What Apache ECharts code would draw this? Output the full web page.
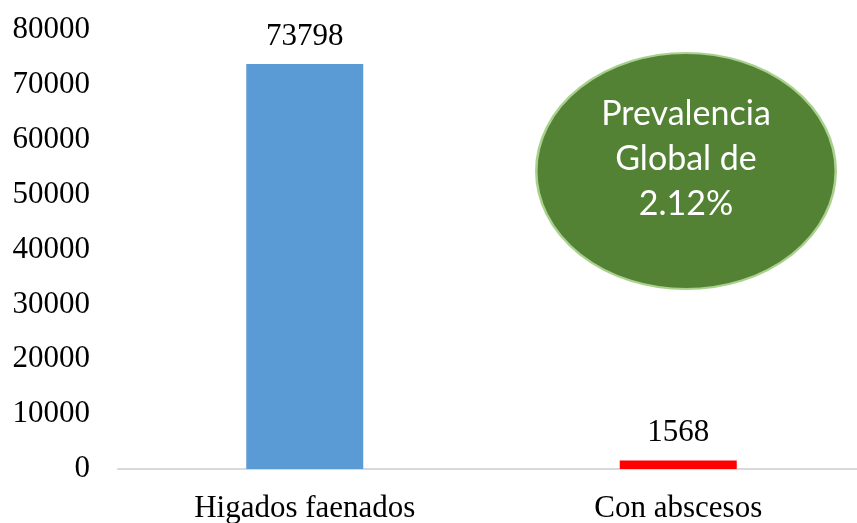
<!DOCTYPE html>
<html>
<head>
<meta charset="utf-8">
<script src="https://cdn.jsdelivr.net/npm/echarts@6/dist/echarts.min.js"></script>
<style>
  html, body { margin: 0; padding: 0; background: #fff; }
  #chart { width: 857px; height: 523px; }
</style>
</head>
<body>
<div id="chart"></div>
<script>
// datos
const categories = ['Higados faenados', 'Con abscesos'];
const values = [73798, 1568];
const barColors = ['#5B9BD5', '#FF0000'];
const noteLines = ['Prevalencia', 'Global de', '2.12%'];

const chart = echarts.init(document.getElementById('chart'), null, { renderer: 'canvas' });

const serif = '"Liberation Serif", "Times New Roman", serif';

const option = {
    backgroundColor: '#ffffff',
    animation: false,
    grid: {
        left: 118,
        width: 747,
        top: 30,
        bottom: 54,
        outerBoundsMode: 'none'
    },
    xAxis: {
        type: 'category',
        data: categories,
        axisLine: { show: true, lineStyle: { color: '#d9d9d9', width: 2 } },
        axisTick: { show: false },
        axisLabel: {
            color: '#000',
            fontFamily: serif,
            fontSize: 31,
            margin: 24
        }
    },
    yAxis: {
        type: 'value',
        min: 0,
        max: 80000,
        interval: 10000,
        axisLine: { show: false },
        axisTick: { show: false },
        splitLine: { show: false },
        axisLabel: {
            color: '#000',
            fontFamily: serif,
            fontSize: 31,
            margin: 28,
            formatter: v => String(v)
        }
    },
    series: [{
        type: 'bar',
        barWidth: 117,
        data: values.map((v, i) => ({ value: v, itemStyle: { color: barColors[i] } })),
        label: {
            show: true,
            position: 'top',
            distance: 12,
            color: '#000',
            fontFamily: serif,
            fontSize: 31
        }
    }],
    graphic: [{
        type: 'group',
        left: 535,
        top: 52,
        children: [{
            type: 'circle',
            x: 151,
            y: 119,
            scaleX: 151 / 119,
            shape: { cx: 0, cy: 0, r: 118 },
            style: { fill: '#548235', stroke: '#A9D18E', lineWidth: 2 }
        }, {
            type: 'text',
            x: 151,
            y: 107,
            style: {
                text: noteLines.join('\n'),
                fill: '#ffffff',
                font: '34px Lato, "Open Sans", sans-serif',
                lineHeight: 45,
                align: 'center',
                verticalAlign: 'middle'
            }
        }]
    }]
};

chart.setOption(option);
</script>
</body>
</html>
